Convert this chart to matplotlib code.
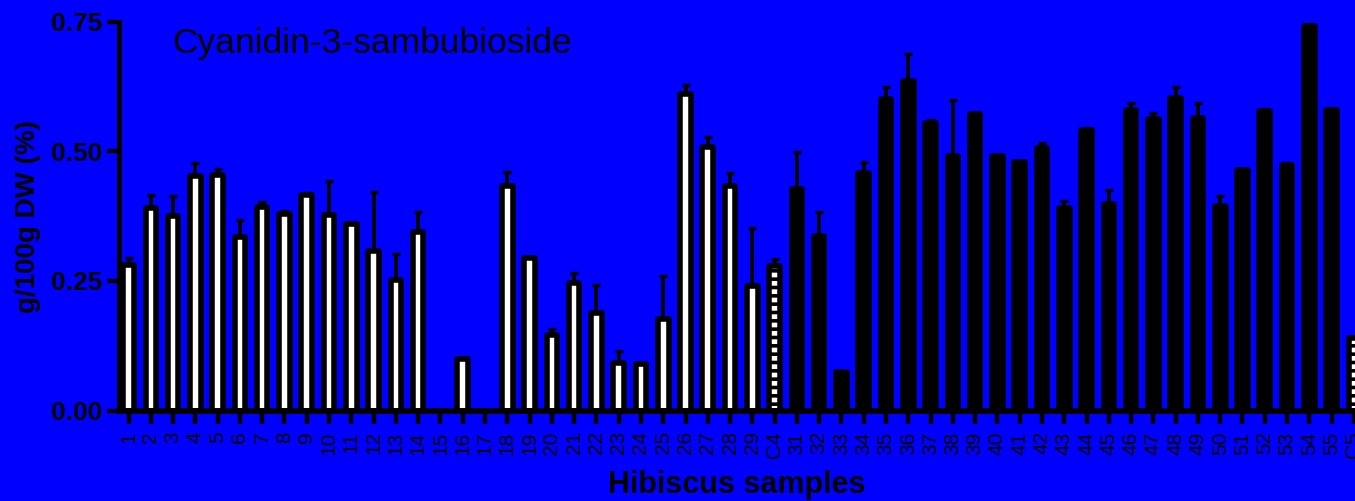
import numpy as np
import matplotlib
matplotlib.use("Agg")
import matplotlib.pyplot as plt

# Sample labels along the x axis
samples = [str(i) for i in range(1, 30)] + ["C4"] + [str(i) for i in range(31, 56)] + ["C5"]

# Calyx colour group of each sample: white = light calyces, black = dark calyces, ctrl = commercial controls
groups = ["white"] * 29 + ["ctrl"] + ["black"] * 25 + ["ctrl"]

# Cyanidin-3-sambubioside content, g/100g DW (%)
means = [0.281, 0.390, 0.375, 0.452, 0.455, 0.335, 0.392, 0.380, 0.416, 0.378,
         0.359, 0.308, 0.252, 0.344, 0.000, 0.099, 0.000, 0.433, 0.294, 0.146,
         0.246, 0.189, 0.091, 0.089, 0.177, 0.610, 0.508, 0.433, 0.240, 0.278,
         0.428, 0.337, 0.075, 0.459, 0.601, 0.636, 0.555, 0.490, 0.572, 0.490,
         0.479, 0.506, 0.391, 0.542, 0.399, 0.580, 0.562, 0.602, 0.565, 0.394,
         0.464, 0.578, 0.474, 0.742, 0.580, 0.139]

# Standard deviations (upper whiskers only)
sds = [0.014, 0.025, 0.039, 0.025, 0.010, 0.032, 0.010, 0.004, 0.004, 0.064,
       0.003, 0.113, 0.049, 0.039, 0.000, 0.002, 0.000, 0.028, 0.003, 0.012,
       0.019, 0.054, 0.023, 0.003, 0.082, 0.017, 0.020, 0.025, 0.112, 0.015,
       0.071, 0.045, 0.002, 0.021, 0.023, 0.051, 0.006, 0.108, 0.002, 0.003,
       0.002, 0.010, 0.013, 0.003, 0.027, 0.013, 0.012, 0.022, 0.028, 0.020,
       0.002, 0.003, 0.003, 0.003, 0.004, 0.003]

y_ticks = [0.00, 0.25, 0.50, 0.75]
y_tick_labels = ["0.00", "0.25", "0.50", "0.75"]

title = "Cyanidin-3-sambubioside"
x_title = "Hibiscus samples"
y_title = "g/100g DW (%)"

plt.rcParams["font.family"] = ["Liberation Sans", "DejaVu Sans"]
plt.rcParams["hatch.linewidth"] = 2.6
plt.rcParams["hatch.color"] = "black"

BLUE = "#0000FF"
W, H, DPI = 1355, 501, 100

fig = plt.figure(figsize=(W / DPI, H / DPI), dpi=DPI, facecolor=BLUE)
ax = fig.add_axes([118.5 / W, 90.5 / H, (W - 118.5) / W, (479.3 - 90.5) / H])
ax.set_facecolor(BLUE)

x = np.arange(1, len(samples) + 1)
means_arr = np.array(means)
sds_arr = np.array(sds)

# whiskers sit under the bars so only the upper half shows
ax.errorbar(x, means_arr, yerr=[np.zeros_like(sds_arr), sds_arr], fmt="none",
            ecolor="black", elinewidth=2.7, capsize=2.7, capthick=2.4, zorder=2)

style = {
    "white": dict(color="white", hatch=None),
    "black": dict(color="black", hatch=None),
    "ctrl": dict(color="white", hatch="--"),
}
for xi, m, g in zip(x, means, groups):
    st = style[g]
    ax.bar(xi, m, width=0.475, color=st["color"], edgecolor="black",
           linewidth=4, hatch=st["hatch"], joinstyle="round", zorder=3)

ax.set_xlim(0.55, 56.05)
ax.set_ylim(0, 0.75)

for side in ("top", "right"):
    ax.spines[side].set_visible(False)
ax.spines["left"].set_linewidth(3.5)
ax.spines["bottom"].set_linewidth(4.2)
ax.spines["left"].set_zorder(5)
ax.spines["bottom"].set_zorder(5)

ax.set_yticks(y_ticks)
ax.set_yticklabels(y_tick_labels, fontsize=19, fontweight="bold")
ax.set_xticks(x)
ax.set_xticklabels(samples, rotation=90, fontsize=15)
ax.tick_params(axis="y", direction="out", length=8.3, width=3.2, pad=3.6, colors="black")
ax.tick_params(axis="x", direction="out", length=9, width=3.2, pad=6, colors="black")

ax.text(0.0437, 0.92, title, transform=ax.transAxes, fontsize=25.5,
        ha="left", va="baseline", color="black")

fig.text(28 / W, 0.568, y_title, rotation=90, ha="center", va="center",
         fontsize=20, fontweight="bold")
fig.text(736.7 / W, (H - 493.3) / H, x_title, ha="center", va="baseline",
         fontsize=22, fontweight="bold")

fig.savefig("out.png", dpi=DPI, facecolor=BLUE)
